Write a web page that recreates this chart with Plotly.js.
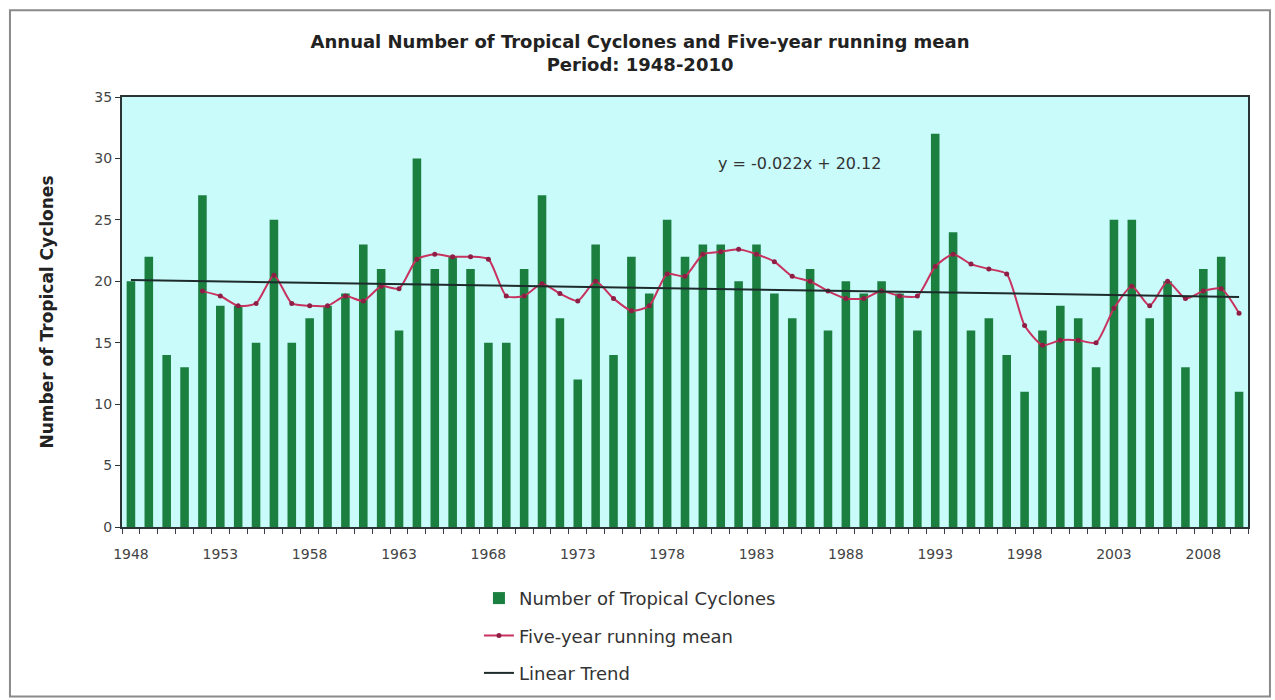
<!DOCTYPE html>
<html>
<head>
<meta charset="utf-8">
<script src="https://cdn.plot.ly/plotly-3.0.1.min.js"></script>
<style>
  html, body { margin: 0; padding: 0; background: #ffffff; }
  #chart { width: 1275px; height: 700px; }
</style>
</head>
<body>
<div id="chart"></div>
<script>
// ---- Data ----
const years = [1948,1949,1950,1951,1952,1953,1954,1955,1956,1957,1958,1959,1960,1961,1962,1963,1964,1965,1966,1967,1968,1969,1970,1971,1972,1973,1974,1975,1976,1977,1978,1979,1980,1981,1982,1983,1984,1985,1986,1987,1988,1989,1990,1991,1992,1993,1994,1995,1996,1997,1998,1999,2000,2001,2002,2003,2004,2005,2006,2007,2008,2009,2010];

const cyclones = [20,22,14,13,27,18,18,15,25,15,17,18,19,23,21,16,30,21,22,21,15,15,21,27,17,12,23,14,22,19,25,22,23,23,20,23,19,17,21,16,20,19,20,19,16,32,24,16,17,14,11,16,18,17,13,25,25,17,20,13,21,22,11];

const meanYears = [1952,1953,1954,1955,1956,1957,1958,1959,1960,1961,1962,1963,1964,1965,1966,1967,1968,1969,1970,1971,1972,1973,1974,1975,1976,1977,1978,1979,1980,1981,1982,1983,1984,1985,1986,1987,1988,1989,1990,1991,1992,1993,1994,1995,1996,1997,1998,1999,2000,2001,2002,2003,2004,2005,2006,2007,2008,2009,2010];

const runningMean = [19.2,18.8,18.0,18.2,20.5,18.2,18.0,18.0,18.8,18.4,19.6,19.4,21.8,22.2,22.0,22.0,21.8,18.8,18.8,19.8,19.0,18.4,20.0,18.6,17.6,18.0,20.6,20.4,22.2,22.4,22.6,22.2,21.6,20.4,20.0,19.2,18.6,18.6,19.2,18.8,18.8,21.2,22.2,21.4,21.0,20.6,16.4,14.8,15.2,15.2,15.0,17.8,19.6,18.0,20.0,18.6,19.2,19.4,17.4];

const trendYears = [1948, 2010];
const trendValues = [20.10, 18.73];

const xTickLabels = [1948,1953,1958,1963,1968,1973,1978,1983,1988,1993,1998,2003,2008];
const yTickLabels = [0,5,10,15,20,25,30,35];

const FONT = 'DejaVu Sans, Liberation Sans, Arial, sans-serif';

const traces = [
  {
    type: 'bar',
    name: 'Number of Tropical Cyclones',
    x: years,
    y: cyclones,
    marker: { color: '#1b7f40', line: { width: 0 } },
    legendgroup: 'a'
  },
  {
    type: 'scatter',
    mode: 'lines+markers',
    name: 'Five-year running mean',
    x: meanYears,
    y: runningMean,
    line: { color: '#c8325e', width: 2, shape: 'spline', smoothing: 0.6 },
    marker: { color: '#8e1e44', size: 5 },
    legendgroup: 'b'
  },
  {
    type: 'scatter',
    mode: 'lines',
    name: 'Linear Trend',
    x: trendYears,
    y: trendValues,
    line: { color: '#1e2b2b', width: 2 },
    legendgroup: 'c'
  }
];

const layout = {
  width: 1275,
  height: 700,
  margin: { l: 122, r: 27, t: 97, b: 173, pad: 0, autoexpand: false },
  paper_bgcolor: '#ffffff',
  plot_bgcolor: '#c9fbfb',
  font: { family: FONT, size: 13, color: '#333333' },
  title: {
    text: '<b>Annual Number of Tropical Cyclones and Five-year running mean<br>Period: 1948-2010</b>',
    font: { family: FONT, size: 18, color: '#222222' },
    x: 0.502, xanchor: 'center',
    y: 0.932, yanchor: 'top', yref: 'container',
    automargin: false
  },
  bargap: 0.52,
  showlegend: true,
  legend: {
    orientation: 'v',
    x: 0.317, xanchor: 'left',
    y: -0.123, yanchor: 'top',
    font: { family: FONT, size: 18, color: '#333333' },
    traceorder: 'grouped',
    tracegroupgap: 11,
    bgcolor: 'rgba(0,0,0,0)'
  },
  xaxis: {
    type: 'linear',
    range: [1947.5, 2010.5],
    tickmode: 'array',
    tickvals: xTickLabels,
    ticktext: xTickLabels.map(String),
    ticks: '',
    ticklabelstandoff: 13,
    automargin: false,
    showgrid: false,
    zeroline: false,
    showline: true,
    linecolor: '#2a3434',
    linewidth: 2,
    mirror: true,
    tickfont: { family: FONT, size: 14, color: '#444444' },
    minor: {
      tick0: 1947.5,
      dtick: 1,
      ticks: 'outside',
      ticklen: 5,
      tickwidth: 1,
      tickcolor: '#3a3a4a',
      showgrid: false
    }
  },
  yaxis: {
    range: [0, 35],
    tickmode: 'array',
    tickvals: yTickLabels,
    ticks: 'outside',
    ticklen: 5,
    tickwidth: 1,
    tickcolor: '#2a3434',
    automargin: false,
    showgrid: false,
    zeroline: false,
    showline: true,
    linecolor: '#2a3434',
    linewidth: 2,
    mirror: true,
    tickfont: { family: FONT, size: 14, color: '#444444' },
    title: {
      text: '<b>Number of Tropical Cyclones</b>',
      font: { family: FONT, size: 17, color: '#222222' },
      standoff: 36
    }
  },
  annotations: [
    {
      xref: 'x', yref: 'y',
      x: 1985.4, y: 29.6,
      text: 'y = -0.022x + 20.12',
      showarrow: false,
      font: { family: FONT, size: 16, color: '#333333' }
    }
  ],
  shapes: [
    {
      type: 'rect', xref: 'paper', yref: 'paper', layer: 'above',
      x0: -0.0995, x1: 1.0195, y0: -0.394, y1: 1.202,
      line: { color: '#8a8a8a', width: 2 },
      fillcolor: 'rgba(0,0,0,0)'
    }
  ]
};

Plotly.newPlot('chart', traces, layout, { displayModeBar: false, staticPlot: true });
</script>
</body>
</html>
